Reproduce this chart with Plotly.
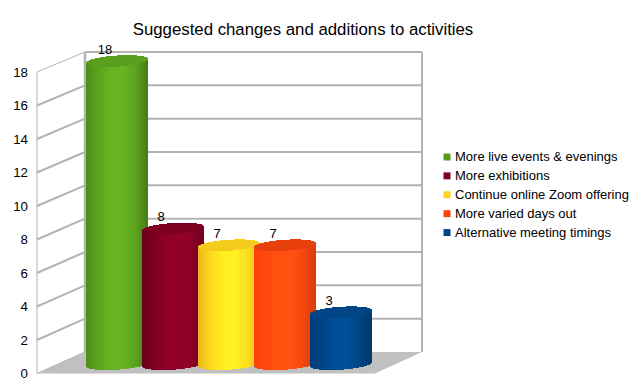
import numpy as np
import plotly.graph_objects as go

TITLE = "Suggested changes and additions to activities"
series = ["More live events & evenings", "More exhibitions", "Continue online Zoom offering",
          "More varied days out", "Alternative meeting timings"]
values = [18, 8, 7, 7, 3]
ticks = [0, 2, 4, 6, 8, 10, 12, 14, 16, 18]
base_colors = ["#579D1C", "#7E0021", "#FFD320", "#FF420E", "#004586"]
cap_colors = ["#5A9E1E", "#7E0021", "#F5CB1E", "#E8400C", "#004586"]
shades = [
    ["#4F8F1A", "#5BA31E", "#66B422", "#66B422", "#5CA61F", "#477F17"],
    ["#6A001C", "#7E0021", "#8E0028", "#94002A", "#8E0028", "#750020"],
    ["#E8B818", "#FFD820", "#FFEE20", "#FFF422", "#FFE020", "#EEC01C"],
    ["#FF420E", "#FF4A0E", "#FF5210", "#FF5210", "#F5480E", "#D93C0C"],
    ["#003E7A", "#004586", "#004E96", "#005098", "#004586", "#003A6E"],
]

W, H = 640, 390
PITCH, CX0, RX = 56.0, 117.0, 30.5      # pixels
Y0, SCALE = 362.5, 16.75                # bar plane
RY, TILT = 5.5, 2.0
FRONT0, FRONT18 = 373.5, 72.0
BACK0, BACK18 = 352.0, 52.0
XL, XB, XR, XF = 37.0, 85.0, 422.0, 375.0
GRID = "#B3B3B3"


def px(x):
    return x / W


def py(y):
    return 1 - y / H


def ix(x):
    return (x - CX0) / PITCH


def iy(y):
    return (Y0 - y) / SCALE


def hex_rgb(c):
    return np.array([int(c[k:k + 2], 16) for k in (1, 3, 5)], float)


def shade(stops, t):
    pos = np.linspace(-1, 1, len(stops))
    rgb = [np.interp(t, pos, [hex_rgb(s)[k] for s in stops]) for k in range(3)]
    return [f"rgb({int(a)},{int(b)},{int(c)})" for a, b, c in zip(*rgb)]


shapes = []


def line(x0, y0, x1, y1, w=2, color=GRID):
    shapes.append(dict(type="line", xref="paper", yref="paper", layer="below",
                       x0=px(x0), y0=py(y0), x1=px(x1), y1=py(y1),
                       line=dict(color=color, width=w)))


pts = [(XL, FRONT0), (XB, BACK0), (XR, BACK0), (XF, FRONT0)]
path = "M " + " L ".join(f"{px(a)} {py(b)}" for a, b in pts) + " Z"
shapes.append(dict(type="path", xref="paper", yref="paper", layer="below", path=path,
                   fillcolor="#C0C0C0", line=dict(width=0)))
for v in ticks:
    fy = FRONT0 + (FRONT18 - FRONT0) * v / 18
    by = BACK0 + (BACK18 - BACK0) * v / 18
    if v > 0:
        line(XB, by, XR, by)
    line(XL, fy, XB, by, 2 if 0 < v < 18 else 1)
line(XL, FRONT0, XL, FRONT18, 1)
line(XB, BACK0, XB, BACK18, 2.5)
line(XR, BACK0, XR, BACK18, 2)

fig = go.Figure()
# invisible trace keeps the value axis alive
fig.add_trace(go.Scatter(x=[0] * len(ticks), y=ticks, mode="none", xaxis="x", yaxis="y",
                         showlegend=False, hoverinfo="skip"))

t = (np.arange(int(2 * RX)) + 0.5) / RX - 1
arc = np.sqrt(1 - t ** 2)
front = (TILT * t - RY * arc) / SCALE
for i, (name, v) in enumerate(zip(series, values)):
    xs = i + t * RX / PITCH
    fig.add_trace(go.Bar(x=xs, y=[v + 0.1] * len(t), base=-0.1 + front, width=1.15 / PITCH,
                         marker=dict(color=shade(shades[i], t), line=dict(width=0)),
                         name=name, xaxis="x", yaxis="y2", showlegend=False))
    fig.add_trace(go.Bar(x=xs, y=2 * RY * arc / SCALE, base=v + front, width=1.15 / PITCH,
                         marker=dict(color=cap_colors[i], line=dict(width=0)),
                         name=name, xaxis="x", yaxis="y2", showlegend=False))

fig.add_trace(go.Scatter(x=[i - 12 / PITCH for i in range(5)], y=[v + 0.25 for v in values], mode="text",
                         text=[str(v) for v in values], textposition="top center",
                         textfont=dict(family="Liberation Sans", size=13, color="#000000"),
                         xaxis="x", yaxis="y2", showlegend=False, hoverinfo="skip"))

# key beside the plot
for k, name in enumerate(series):
    swatch_row = iy(157 + 18.9 * k)
    text_row = iy(158 + 18.9 * k)
    fig.add_trace(go.Scatter(x=[ix(447), ix(455)], y=[swatch_row, text_row], mode="markers+text",
                             marker=dict(symbol="square", size=[8, 0], color=base_colors[k], opacity=1),
                             text=["", name], textposition="middle right",
                             textfont=dict(family="Liberation Sans", size=13, color="#000000"),
                             xaxis="x", yaxis="y2", showlegend=False, hoverinfo="skip"))

fig.update_layout(
    width=W, height=H, margin=dict(l=0, r=0, t=0, b=0), autosize=False,
    paper_bgcolor="white", plot_bgcolor="rgba(0,0,0,0)", barmode="overlay", bargap=0,
    showlegend=False, shapes=shapes,
    font=dict(family="Liberation Sans", color="#000000"),
    title=dict(text=TITLE, x=303 / W, xanchor="center", y=py(29), yanchor="middle",
               font=dict(family="Liberation Sans", size=16.8, color="#000000")),
    xaxis=dict(domain=[0, 1], range=[ix(0), ix(W)], visible=False, fixedrange=True, automargin=False),
    yaxis=dict(domain=[py(FRONT0), py(BACK18)], anchor="free", position=px(XL), automargin=False,
               range=[0, (FRONT0 - BACK18) / ((FRONT0 - FRONT18) / 18)], tickvals=ticks,
               ticktext=[str(v) for v in ticks], showgrid=False, zeroline=False, showline=False,
               ticks="", ticklabelstandoff=9, tickfont=dict(family="Liberation Sans", size=13.3)),
    yaxis2=dict(domain=[0, 1], range=[iy(H), iy(0)], visible=False, anchor="x", fixedrange=True,
                automargin=False),
)
fig.write_html("out.html", config={"displayModeBar": False},
               post_script="document.body.style.margin='0';")
